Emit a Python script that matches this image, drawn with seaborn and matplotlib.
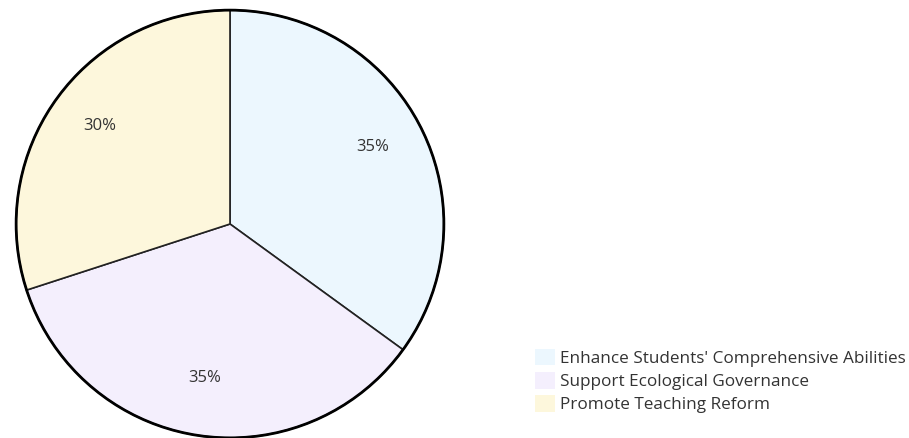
import matplotlib.pyplot as plt
import seaborn as sns
from matplotlib.patches import Patch

# data
labels = ["Enhance Students' Comprehensive Abilities",
          "Support Ecological Governance",
          "Promote Teaching Reform"]
values = [35, 35, 30]
colors = ["#ecf7fe", "#f4effd", "#fdf7dc"]

sns.set_theme(style="white")
plt.rcParams['font.family'] = ['Open Sans', 'DejaVu Sans']

fig = plt.figure(figsize=(9.09, 4.38), dpi=100)
W, H = 909, 438
cx, cy, r = 230, 224, 216
ax = fig.add_axes([(cx - r) / W, (H - cy - r) / H, 2 * r / W, 2 * r / H])

wedges, texts, autotexts = ax.pie(values, colors=colors, startangle=90,
                                  counterclock=False, autopct='%1.0f%%',
                                  pctdistance=0.75,
                                  wedgeprops=dict(edgecolor="#222222", linewidth=1.2),
                                  textprops=dict(color="#333333", fontsize=12))
for t in autotexts:
    t.set_va('baseline')
circle = plt.Circle((0, 0), 1.0, fill=False, edgecolor="black", linewidth=2)
ax.add_patch(circle)
ax.set_xlim(-1.01, 1.01)
ax.set_ylim(-1.01, 1.01)
ax.set_aspect('equal')
ax.axis('off')

handles = [Patch(facecolor=c, edgecolor='none') for c in colors]
fig.legend(handles, labels, loc='upper left', bbox_to_anchor=(535 / W, 1 - 349 / H),
           frameon=False, fontsize=12.3, handlelength=1.15, handleheight=1.1,
           handletextpad=0.3, labelspacing=0.3, labelcolor="#333333",
           borderaxespad=0, borderpad=0)

plt.savefig("out.png", dpi=100)
